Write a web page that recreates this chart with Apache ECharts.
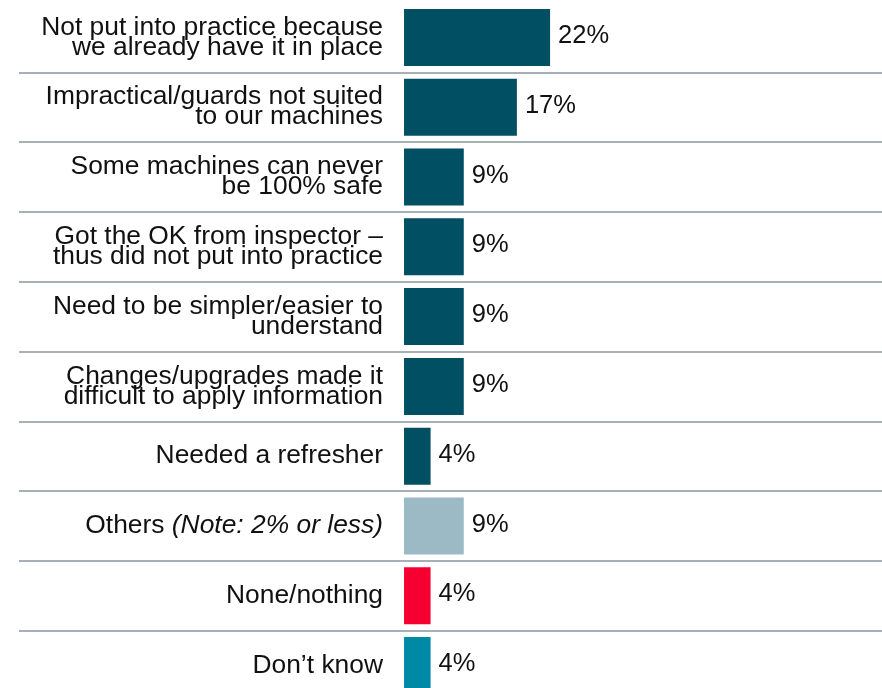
<!DOCTYPE html>
<html>
<head>
<meta charset="utf-8">
<script src="https://cdn.jsdelivr.net/npm/echarts@6/dist/echarts.min.js"></script>
<style>
  html, body { margin: 0; padding: 0; background: #ffffff; }
  #chart { width: 882px; height: 688px; }
</style>
</head>
<body>
<div id="chart"></div>
<script>
// Reasons given, top to bottom
const categories = [
  'Not put into practice because\nwe already have it in place',
  'Impractical/guards not suited\nto our machines',
  'Some machines can never\nbe 100% safe',
  'Got the OK from inspector –\nthus did not put into practice',
  'Need to be simpler/easier to\nunderstand',
  'Changes/upgrades made it\ndifficult to apply information',
  'Needed a refresher',
  'Others {it|(Note: 2% or less)}',
  'None/nothing',
  'Don’t know'
];

// Share of respondents, percent
const values = [22, 17, 9, 9, 9, 9, 4, 9, 4, 4];

// Bar fill per row
const barColors = [
  '#004f62', '#004f62', '#004f62', '#004f62', '#004f62',
  '#004f62', '#004f62', '#9bbac6', '#f60031', '#0089a7'
];

const FONT = '"Liberation Sans", Arial, sans-serif';

const chart = echarts.init(document.getElementById('chart'), null, { renderer: 'canvas' });

chart.setOption({
  animation: false,
  backgroundColor: '#ffffff',
  grid: {
    left: 19, right: 0, top: 2.5, height: 698,
    containLabel: false,
    outerBoundsMode: 'none'
  },
  // the value scale leaves room on the left for the row labels; bars start at 0
  xAxis: {
    type: 'value',
    min: -58,
    max: 72,
    axisLine: { show: false },
    axisTick: { show: false },
    axisLabel: { show: false },
    splitLine: { show: false }
  },
  yAxis: {
    type: 'category',
    data: categories,
    inverse: true,
    axisLine: { show: false, onZero: false },
    axisTick: { show: false },
    axisLabel: {
      interval: 0,
      margin: -364,
      color: '#111111',
      fontFamily: FONT,
      fontSize: 26.4,
      lineHeight: 20,
      align: 'right',
      rich: {
        it: { fontStyle: 'italic', fontFamily: FONT, fontSize: 26.4, color: '#111111' }
      }
    },
    splitLine: {
      show: true,
      showMinLine: false,
      showMaxLine: false,
      lineStyle: { color: '#a5b1b7', width: 2 }
    }
  },
  series: [{
    type: 'bar',
    data: values.map((v, i) => ({ value: v, itemStyle: { color: barColors[i] } })),
    barWidth: 57,
    label: {
      show: true,
      position: 'right',
      distance: 8,
      offset: [0, -1.5],
      formatter: '{c}%',
      color: '#111111',
      fontFamily: FONT,
      fontSize: 25.5
    }
  }]
});
</script>
</body>
</html>
